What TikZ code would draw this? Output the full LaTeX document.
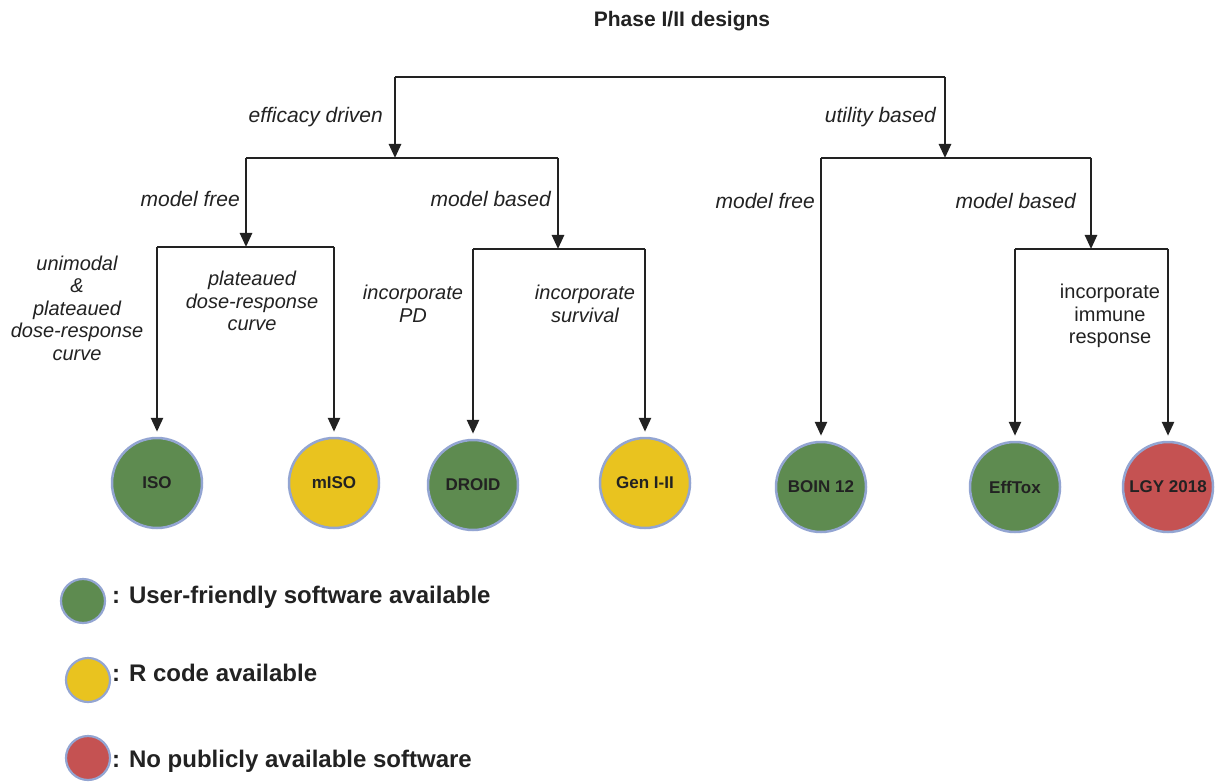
\documentclass[tikz,border=0pt]{standalone}
\usepackage{fontspec}
\setmainfont{Liberation Sans}
\usetikzlibrary{arrows.meta}
\definecolor{cgreen}{HTML}{5E8B50}
\definecolor{cyellow}{HTML}{E9C31F}
\definecolor{cred}{HTML}{C55252}
\definecolor{cborder}{HTML}{93A5D2}
\definecolor{ink}{HTML}{222222}
\tikzset{
  barline/.style={line width=2.6pt, draw=ink},
  arr/.style={line width=2.6pt, draw=ink, -{Triangle[length=14pt,width=12pt]}},
  design/.style={circle, draw=cborder, line width=2.5pt, minimum size=90pt, inner sep=0pt, text=ink, font=\fontsize{17}{20}\selectfont\bfseries},
  legdot/.style={circle, draw=cborder, line width=2.2pt, minimum size=44pt, inner sep=0pt},
  lab/.style={anchor=east, text=ink, inner sep=0pt, font=\fontsize{21}{24}\selectfont\itshape},
  mlab/.style={align=center, text=ink, inner sep=0pt, font=\fontsize{20}{22.5}\selectfont\itshape},
  ulab/.style={align=center, text=ink, inner sep=0pt, font=\fontsize{20}{22.5}\selectfont},
  legtext/.style={anchor=base west, text=ink, inner sep=0pt, font=\fontsize{24}{28}\selectfont\bfseries}
}
\begin{document}
\begin{tikzpicture}[x=1pt,y=-1pt]
\useasboundingbox (0,0) rectangle (1230,783);
\fill[white] (0,0) rectangle (1230,783);

% title
\node[text=ink, font=\fontsize{21}{24}\selectfont\bfseries] (title) at (682,21) {Phase I/II designs};

% junction coordinates
\coordinate (t1) at (395,77);  \coordinate (t2) at (945,77);
\coordinate (l1) at (246,158); \coordinate (l2) at (558,158);
\coordinate (r1) at (821,158); \coordinate (r2) at (1091,158);
\coordinate (la) at (157,247); \coordinate (lb) at (334,247);
\coordinate (ma) at (473,249); \coordinate (mb) at (645,249);
\coordinate (ra) at (1015,249); \coordinate (rb) at (1168,249);
\coordinate (t1e) at (395,158); \coordinate (t2e) at (945,158);
\coordinate (l1e) at (246,247); \coordinate (l2e) at (558,249);
\coordinate (r2e) at (1091,249);

% design nodes
\node[design, fill=cgreen]  (iso)   at (157,483) {ISO};
\node[design, fill=cyellow] (miso)  at (334,483) {mISO};
\node[design, fill=cgreen]  (droid) at (473,485) {DROID};
\node[design, fill=cyellow] (gen)   at (645,483) {Gen I-II};
\node[design, fill=cgreen]  (boin)  at (821,487) {BOIN 12};
\node[design, fill=cgreen]  (efftox) at (1015,487) {EffTox};
\node[design, fill=cred]    (lgy)   at (1168,487) {LGY 2018};

% bars
\draw[barline] (t1) -- (t2);
\draw[barline] (l1) -- (l2);
\draw[barline] (r1) -- (r2);
\draw[barline] (la) -- (lb);
\draw[barline] (ma) -- (mb);
\draw[barline] (ra) -- (rb);

% arrows
\draw[arr] (t1) -- (t1e);
\draw[arr] (t2) -- (t2e);
\draw[arr] (l1) -- (l1e);
\draw[arr] (l2) -- (l2e);
\draw[arr] (r2) -- (r2e);
\draw[arr, shorten >=5pt] (la) -- (iso);
\draw[arr, shorten >=5pt] (lb) -- (miso);
\draw[arr, shorten >=5pt] (ma) -- (droid);
\draw[arr, shorten >=5pt] (mb) -- (gen);
\draw[arr, shorten >=5pt] (r1) -- (boin);
\draw[arr, shorten >=5pt] (ra) -- (efftox);
\draw[arr, shorten >=5pt] (rb) -- (lgy);

% branch labels
\node[lab] (effdr) at (383,117) {efficacy driven};
\node[lab] (utbas) at (936,117) {utility based};
\node[lab] (mfl) at (240,199) {model free};
\node[lab] (mbl) at (551,199) {model based};
\node[lab] (mfr) at (815,201) {model free};
\node[lab] (mbr) at (1076,201) {model based};

\node[mlab] (uni) at (77,308) {unimodal\\\&\\plateaued\\dose-response\\curve};
\node[mlab] (plat) at (252,301) {plateaued\\dose-response\\curve};
\node[mlab] (ipd) at (413,304) {incorporate\\PD};
\node[mlab] (isurv) at (585,304) {incorporate\\survival};
\node[ulab] (iimm) at (1110,316) {incorporate\\immune\\response};

% legend
\node[legdot, fill=cgreen]  (lg1) at (83,601) {};
\node[legdot, fill=cyellow] (lg2) at (88,680) {};
\node[legdot, fill=cred]    (lg3) at (88,758) {};
\node[legtext] (lt1) at (112,603) {: User-friendly software available};
\node[legtext] (lt2) at (112,681) {: R code available};
\node[legtext] (lt3) at (112,767) {: No publicly available software};
\end{tikzpicture}
\end{document}
